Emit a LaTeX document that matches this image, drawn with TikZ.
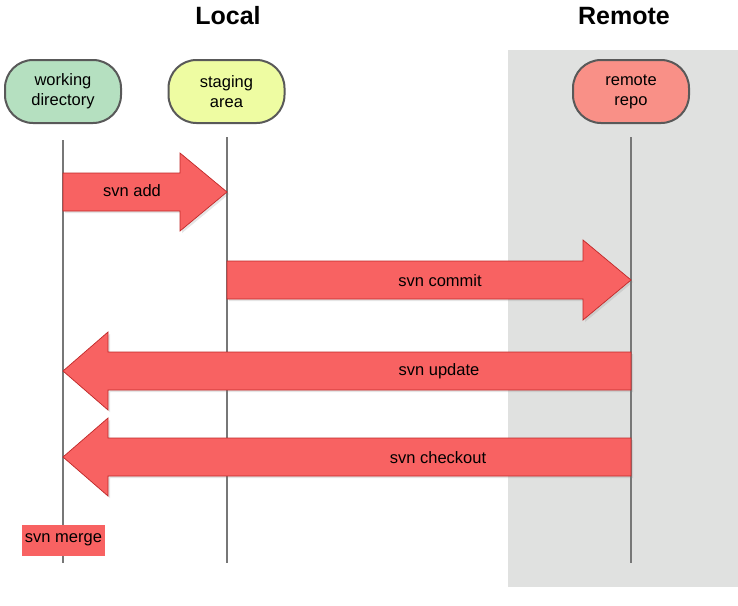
\documentclass[tikz,border=0pt]{standalone}
\usepackage{fontspec}
\setmainfont{Liberation Sans}
\usetikzlibrary{shadows}
\definecolor{wdgreen}{HTML}{B5E0C0}
\definecolor{sayellow}{HTML}{EEFCA2}
\definecolor{rrsalmon}{HTML}{F99087}
\definecolor{remotegray}{HTML}{E0E1E0}
\definecolor{arrowred}{HTML}{F86262}
\definecolor{arrowedge}{HTML}{C02828}
\definecolor{lifeline}{HTML}{777777}
\begin{document}
\begin{tikzpicture}[x=1pt,y=-1pt,
  actor/.style={draw=black!65, line width=2pt, rounded corners=28pt, minimum width=116pt, minimum height=63pt, align=center, font=\fontsize{16.5}{20}\selectfont, inner sep=0pt},
  life/.style={draw=lifeline, line width=1.8pt},
  bigarrow/.style={fill=arrowred, draw=arrowedge, line width=0.7pt, drop shadow={shadow xshift=2pt, shadow yshift=-2pt, opacity=0.2}},
  alabel/.style={font=\fontsize{16.5}{19}\selectfont, inner sep=0pt},
  title/.style={font=\fontsize{25}{28}\selectfont\bfseries, inner sep=0pt}]
\useasboundingbox (0,0) rectangle (738,605);
\fill[white] (0,0) rectangle (738,605);
\fill[remotegray] (508,50) rectangle (738,587);
\node[title] (local) at (228,16) {Local};
\node[title] (remote) at (624,16) {Remote};
\node[actor, fill=wdgreen] (wd) at (63,91.5) {working\\directory};
\node[actor, fill=sayellow] (sa) at (226.5,91.5) {staging\\area};
\node[actor, fill=rrsalmon] (rr) at (631,91.5) {remote\\repo};
\coordinate (wdtop) at (63,140);
\coordinate (wdbot) at (63,563);
\coordinate (satop) at (227,137);
\coordinate (sabot) at (227,563);
\coordinate (rrtop) at (631,137);
\coordinate (rrbot) at (631,563);
\draw[life] (wdtop) -- (wdbot);
\draw[life] (satop) -- (sabot);
\draw[life] (rrtop) -- (rrbot);
% svn add
\draw[bigarrow] (63,173) -- (180,173) -- (180,153) -- (227,192) -- (180,231) -- (180,211) -- (63,211) -- cycle;
\node[alabel] (add) at (132,191) {svn add};
% svn commit
\draw[bigarrow] (227,261) -- (583,261) -- (583,240) -- (631,280) -- (583,320) -- (583,299) -- (227,299) -- cycle;
\node[alabel] (commit) at (440,281) {svn commit};
% svn update
\draw[bigarrow] (631,352) -- (108,352) -- (108,332) -- (63,371) -- (108,410) -- (108,390) -- (631,390) -- cycle;
\node[alabel] (update) at (439,371) {svn update};
% svn checkout
\draw[bigarrow] (631,438) -- (108,438) -- (108,418) -- (63,457) -- (108,496) -- (108,476) -- (631,476) -- cycle;
\node[alabel] (checkout) at (438,458) {svn checkout};
% svn merge
\node[alabel, fill=arrowred, minimum width=83pt, minimum height=31pt] (merge) at (63.5,540) {svn merge};
\end{tikzpicture}
\end{document}
